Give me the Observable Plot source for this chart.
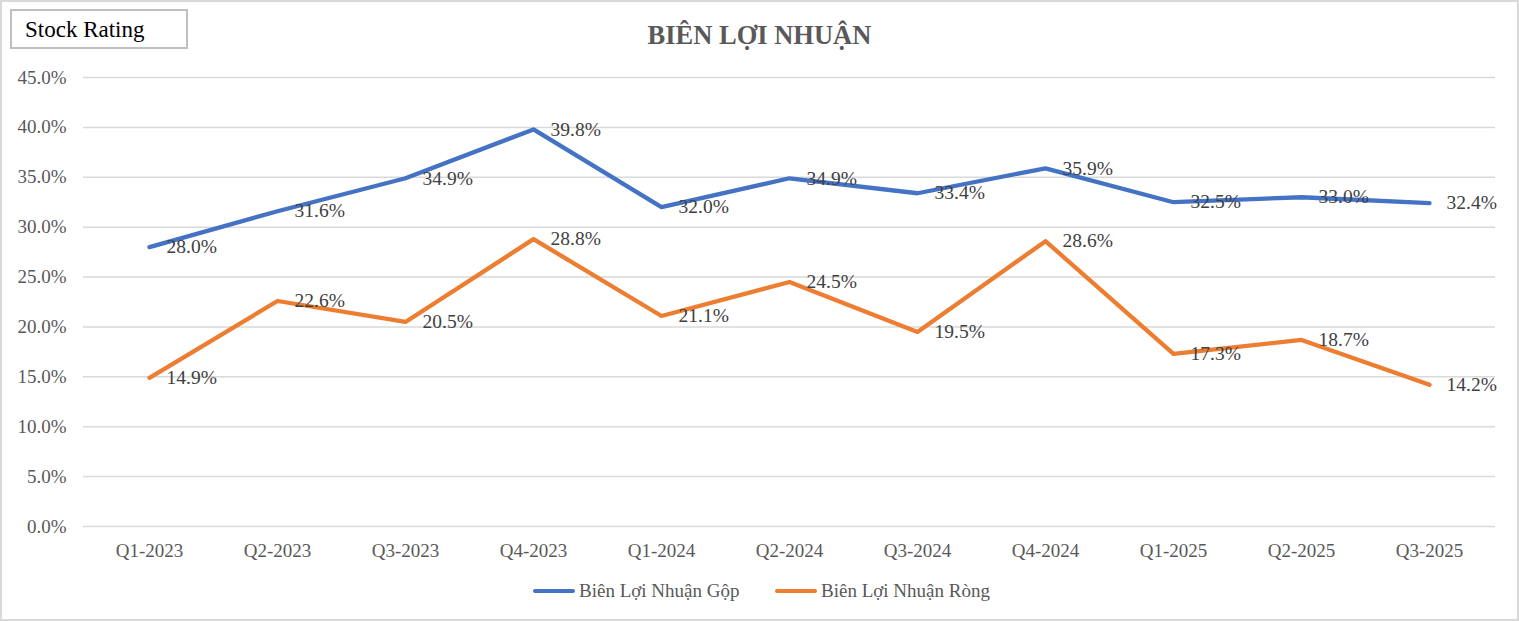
<!DOCTYPE html>
<html><head><meta charset="utf-8">
<script src="https://cdn.jsdelivr.net/npm/d3@7"></script>
<script src="https://cdn.jsdelivr.net/npm/@observablehq/plot@0.6"></script>
<style>
body{margin:0;background:#fff;}
#wrap{position:relative;width:1519px;height:621px;background:#fff;overflow:hidden;font-family:"Liberation Serif",serif;}
#frame{position:absolute;left:0;top:0;right:0;bottom:0;border:2px solid #d9d9d9;pointer-events:none;}
#chart{position:absolute;left:0;top:0;}
#title{position:absolute;left:0;width:1519px;top:22px;text-align:center;font-weight:bold;font-size:26.5px;line-height:26px;color:#595959;}
#badge{position:absolute;left:10px;top:9px;width:178px;height:40px;box-sizing:border-box;border:2px solid #bfbfbf;font-size:23px;line-height:38px;padding-left:13px;color:#000;}
#legend{position:absolute;top:578px;left:0;width:1519px;height:26px;font-size:19px;color:#595959;}
.li{position:absolute;top:0;height:26px;line-height:26px;white-space:nowrap;}
.sw{position:absolute;top:11px;height:4px;width:42px;border-radius:2px;}
</style>
</head><body>
<div id="wrap">
  <div id="chart"></div>
  <div id="title">BIÊN LỢI NHUẬN</div>
  <div id="badge">Stock Rating</div>
  <div id="legend"></div>
  <div id="frame"></div>
</div>
<script>
const quarters = ["Q1-2023","Q2-2023","Q3-2023","Q4-2023","Q1-2024","Q2-2024","Q3-2024","Q4-2024","Q1-2025","Q2-2025","Q3-2025"];
const gop  = [28.0, 31.6, 34.9, 39.8, 32.0, 34.9, 33.4, 35.9, 32.5, 33.0, 32.4];
const rong = [14.9, 22.6, 20.5, 28.8, 21.1, 24.5, 19.5, 28.6, 17.3, 18.7, 14.2];
const seriesNames = ["Biên Lợi Nhuận Gộp", "Biên Lợi Nhuận Ròng"];
const seriesColors = ["#4472C4", "#ED7D31"];
const yTicks = [0, 5, 10, 15, 20, 25, 30, 35, 40, 45];

const data = quarters.flatMap((q, i) => [
  {q, v: gop[i], s: seriesNames[0]},
  {q, v: rong[i], s: seriesNames[1]}
]);

const chart = Plot.plot({
  width: 1519, height: 621,
  marginTop: 77, marginBottom: 95, marginLeft: 83, marginRight: 24,
  style: {fontFamily: "Liberation Serif", fontSize: "19px", background: "transparent", overflow: "visible"},
  x: {type: "point", domain: quarters, padding: 0.5, label: null},
  y: {domain: [0, 45], label: null},
  color: {domain: seriesNames, range: seriesColors},
  marks: [
    Plot.ruleY(yTicks, {stroke: "#d9d9d9", strokeWidth: 1.5}),
    Plot.axisY(yTicks, {tickSize: 0, tickPadding: 17, tickFormat: d => d.toFixed(1) + "%", fill: "#595959", label: null}),
    Plot.axisX({tickSize: 0, tickPadding: 17, fill: "#595959", label: null}),
    Plot.line(data, {x: "q", y: "v", z: "s", stroke: "s", strokeWidth: 4.3, strokeLinecap: "round", strokeLinejoin: "round"}),
    Plot.text(data, {x: "q", y: "v", text: d => d.v.toFixed(1) + "%", dx: 17, textAnchor: "start", fill: "#404040", fontSize: 19.5})
  ]
});
document.getElementById("chart").appendChild(chart);

const legend = document.getElementById("legend");
const legendPos = [533, 775];
seriesNames.forEach((name, i) => {
  const sw = document.createElement("div");
  sw.className = "sw";
  sw.style.left = legendPos[i] + "px";
  sw.style.background = seriesColors[i];
  legend.appendChild(sw);
  const t = document.createElement("div");
  t.className = "li";
  t.style.left = (legendPos[i] + 46) + "px";
  t.textContent = name;
  legend.appendChild(t);
});
</script>
</body></html>
